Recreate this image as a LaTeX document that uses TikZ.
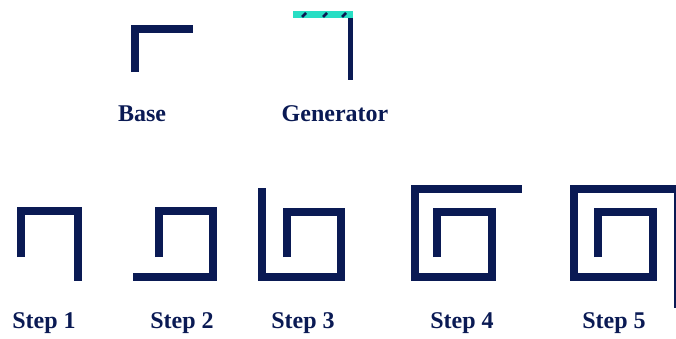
\documentclass[tikz,border=0pt]{standalone}
\usepackage{fontspec}
\setmainfont{Liberation Serif}

\definecolor{spiral}{RGB}{10,26,84}
\definecolor{seed}{RGB}{40,222,196}
\newcommand*{\lblfont}{\fontsize{24}{26}\selectfont\bfseries}

\begin{document}
\begin{tikzpicture}
[
	arm/.style={draw=spiral,line width=7.5pt},
	thinarm/.style={draw=spiral,line width=5pt},
	lab/.style={text=spiral,font=\lblfont,inner sep=0pt},
	x=1pt,y=-1pt
]
	\useasboundingbox (0,0) rectangle (676,338);

	% base and generator
	\draw[arm] (135,72) -- (135,29) -- (193,29);
	\fill[seed] (293,11) rectangle (353,18);
	\foreach \x in {304,325,344}
		\draw[spiral,line width=2.5pt] (\x-2,17) -- (\x+2,13);
	\draw[thinarm] (350,18) -- (350,80);
	\node[lab] (base) at (142,114) {Base};
	\node[lab] (gen) at (335,114) {Generator};

	% steps
	\draw[arm] (21,257) -- (21,211) -- (78,211) -- (78,281);
	\draw[arm] (159,257) -- (159,211) -- (213,211) -- (213,277) -- (133,277);
	\draw[arm] (287,257) -- (287,212) -- (341,212) -- (341,277) -- (262,277) -- (262,188);
	\draw[arm] (437,257) -- (437,212) -- (492,212) -- (492,277) -- (415,277) -- (415,189) -- (522,189);
	\draw[arm] (598,257) -- (598,212) -- (653,212) -- (653,277) -- (574,277) -- (574,189) -- (680,189);
	\draw[spiral,line width=3pt] (675,189) -- (675,308);

	\node[lab] (s1) at (44,323) {Step 1};
	\node[lab] (s2) at (182,323) {Step 2};
	\node[lab] (s3) at (303,323) {Step 3};
	\node[lab] (s4) at (462,323) {Step 4};
	\node[lab] (s5) at (614,323) {Step 5};

\end{tikzpicture}
\end{document}
